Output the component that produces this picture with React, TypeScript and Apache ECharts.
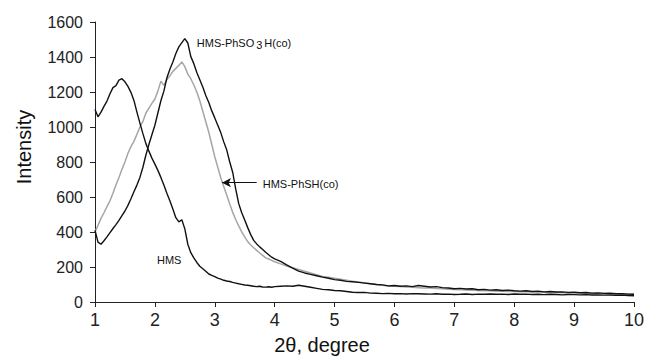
import React, { useEffect, useRef } from "react";
import * as echarts from "echarts";

// 2θ sampling positions (degree)
const twoTheta = [
  1.0, 1.05, 1.1, 1.15, 1.2, 1.25, 1.3, 1.35, 1.4, 1.45, 1.5, 1.55, 1.6, 1.65, 1.7, 1.75, 1.8, 1.85, 1.9, 1.95,
  2.0, 2.05, 2.1, 2.15, 2.2, 2.25, 2.3, 2.35, 2.4, 2.45, 2.5, 2.55, 2.6, 2.65, 2.7, 2.75, 2.8, 2.85, 2.9, 2.95,
  3.0, 3.05, 3.1, 3.15, 3.2, 3.25, 3.3, 3.35, 3.4, 3.45, 3.5, 3.55, 3.6, 3.65, 3.7, 3.75, 3.8, 3.85, 3.9, 3.95,
  4.0, 4.1, 4.2, 4.3, 4.4, 4.5, 4.6, 4.7, 4.8, 4.9, 5.0, 5.1, 5.2, 5.3, 5.4, 5.5, 5.6, 5.7, 5.8, 5.9,
  6.0, 6.1, 6.2, 6.3, 6.4, 6.5, 6.6, 6.7, 6.8, 6.9, 7.0, 7.1, 7.2, 7.3, 7.4, 7.5, 7.6, 7.7, 7.8, 7.9,
  8.0, 8.1, 8.2, 8.3, 8.4, 8.5, 8.6, 8.7, 8.8, 8.9, 9.0, 9.1, 9.2, 9.3, 9.4, 9.5, 9.6, 9.7, 9.8, 9.9,
  10.0,
];

const hms = [
  1100, 1058, 1085, 1118, 1148, 1190, 1225, 1236, 1268, 1276, 1258, 1232, 1198, 1152, 1085, 1022, 962, 905, 862, 822,
  788, 752, 712, 668, 622, 578, 532, 482, 458, 470, 418, 330, 282, 252, 226, 204, 190, 176, 160, 152,
  145, 136, 131, 124, 120, 117, 112, 108, 104, 101, 97, 96, 93, 90, 88, 90, 86, 85, 87, 84,
  88, 90, 92, 90, 96, 90, 84, 78, 72, 70, 66, 64, 60, 56, 54, 55, 51, 50, 48, 49,
  47, 48, 46, 48, 47, 46, 45, 47, 44, 45, 43, 44, 46, 43, 45, 44, 46, 44, 45, 43,
  46, 44, 45, 43, 44, 42, 44, 43, 41, 43, 42, 41, 42, 40, 41, 39, 40, 38, 39, 37,
  36,
];

const hmsPhSO3H = [
  410, 342, 330, 350, 372, 396, 420, 442, 466, 494, 520, 552, 590, 630, 668, 712, 770, 840, 900, 956,
  1010, 1080, 1150, 1205, 1280, 1330, 1372, 1420, 1458, 1482, 1505, 1480, 1402, 1362, 1312, 1270, 1228, 1180, 1140, 1092,
  1052, 1010, 968, 915, 868, 800, 740, 645, 562, 510, 468, 425, 385, 352, 332, 315, 300, 284, 270, 256,
  246, 232, 212, 194, 176, 166, 158, 150, 142, 136, 128, 124, 118, 116, 112, 108, 104, 100, 98, 92,
  94, 90, 92, 88, 94, 90, 86, 88, 82, 80, 76, 78, 74, 76, 70, 72, 68, 70, 66, 68,
  64, 62, 64, 60, 62, 58, 60, 57, 58, 55, 56, 53, 54, 51, 52, 49, 50, 47, 48, 45,
  44,
];

const hmsPhSH = [
  400, 438, 478, 510, 545, 578, 622, 668, 712, 758, 800, 850, 888, 918, 958, 1000, 1032, 1080, 1108, 1135,
  1160, 1205, 1262, 1238, 1272, 1292, 1318, 1335, 1352, 1372, 1345, 1302, 1276, 1240, 1200, 1150, 1090, 1030, 970, 900,
  830, 770, 710, 660, 610, 560, 512, 470, 435, 400, 372, 345, 326, 310, 295, 280, 266, 252, 246, 238,
  230, 218, 206, 196, 186, 176, 166, 156, 146, 142, 136, 130, 124, 118, 114, 110, 104, 100, 96, 92,
  90, 88, 86, 84, 82, 80, 80, 77, 76, 73, 72, 70, 69, 67, 66, 64, 64, 62, 61, 60,
  60, 58, 58, 57, 56, 55, 55, 54, 53, 52, 52, 51, 50, 49, 49, 48, 47, 46, 46, 45,
  44,
];

const FONT = "'Liberation Sans', Arial, sans-serif";

export default function App() {
  const ref = useRef<HTMLDivElement>(null);

  useEffect(() => {
    if (!ref.current) return;
    const chart = echarts.init(ref.current, null, { renderer: "svg" });
    const pair = (ys: number[]) => twoTheta.map((x, i) => [x, ys[i]]);
    const lineStyleBlack = { color: "#111", width: 1.4 };
    chart.setOption({
      animation: false,
      backgroundColor: "#fff",
      grid: { left: 95, right: 14, top: 22, bottom: 54 },
      xAxis: {
        type: "value",
        min: 1,
        max: 10,
        interval: 1,
        axisLine: { show: true, onZero: false, lineStyle: { color: "#222", width: 1 } },
        axisTick: { show: true, length: 5, lineStyle: { color: "#222" } },
        axisLabel: { fontSize: 18, color: "#222", fontFamily: FONT, margin: 9, formatter: (v: number) => String(v) },
        splitLine: { show: false },
      },
      yAxis: {
        type: "value",
        min: 0,
        max: 1600,
        interval: 200,
        axisLine: { show: true, lineStyle: { color: "#222", width: 1 } },
        axisTick: { show: true, length: 5, lineStyle: { color: "#222" } },
        axisLabel: { fontSize: 16, color: "#222", fontFamily: FONT, margin: 12, formatter: (v: number) => String(v) },
        splitLine: { show: false },
      },
      series: [
        {
          name: "HMS-PhSH(co)",
          type: "line",
          data: pair(hmsPhSH),
          showSymbol: false,
          lineStyle: { color: "#a6a6a6", width: 1.5 },
          markLine: {
            silent: true,
            symbol: ["none", "arrow"],
            symbolSize: [7, 9],
            label: { show: false },
            lineStyle: { color: "#111", width: 1.2, type: "solid" },
            data: [[{ coord: [3.7, 682] }, { coord: [3.12, 682] }]],
          },
        },
        { name: "HMS", type: "line", data: pair(hms), showSymbol: false, lineStyle: lineStyleBlack },
        { name: "HMS-PhSO3H(co)", type: "line", data: pair(hmsPhSO3H), showSymbol: false, lineStyle: lineStyleBlack },
      ],
    });

    const p = (x: number, y: number) => chart.convertToPixel({ gridIndex: 0 }, [x, y]) as number[];
    const a = p(2.7, 1482);
    const b = p(3.8, 676);
    const c = p(2.035, 242);
    chart.setOption({
      graphic: [
        {
          type: "text",
          x: a[0],
          y: a[1],
          style: {
            text: "{a|HMS-PhSO}{s|3}{a|H(co)}",
            rich: {
              a: { fontSize: 11, fontFamily: FONT, fill: "#111" },
              s: { fontSize: 11, fontFamily: FONT, fill: "#111", padding: [5, 2, 0, 2] },
            },
            verticalAlign: "middle",
            align: "left",
          },
        },
        {
          type: "text",
          x: b[0],
          y: b[1],
          style: { text: "HMS-PhSH(co)", fontSize: 11, fontFamily: FONT, fill: "#111", verticalAlign: "middle", align: "left" },
        },
        {
          type: "text",
          x: c[0],
          y: c[1],
          style: { text: "HMS", fontSize: 11, fontFamily: FONT, fill: "#111", verticalAlign: "middle", align: "left" },
        },
        {
          type: "text",
          x: 24,
          y: 147,
          rotation: Math.PI / 2,
          style: { text: "Intensity", fontSize: 20, fontFamily: FONT, fill: "#111", align: "center", verticalAlign: "middle" },
        },
        {
          type: "text",
          x: 322,
          y: 345,
          style: { text: "2θ, degree", fontSize: 20, fontFamily: FONT, fill: "#111", align: "center", verticalAlign: "middle" },
        },
      ],
    });
    return () => chart.dispose();
  }, []);

  return (
    <div
      ref={ref}
      style={{ position: "fixed", left: 0, top: 0, width: 648, height: 356, background: "#fff" }}
    />
  );
}
